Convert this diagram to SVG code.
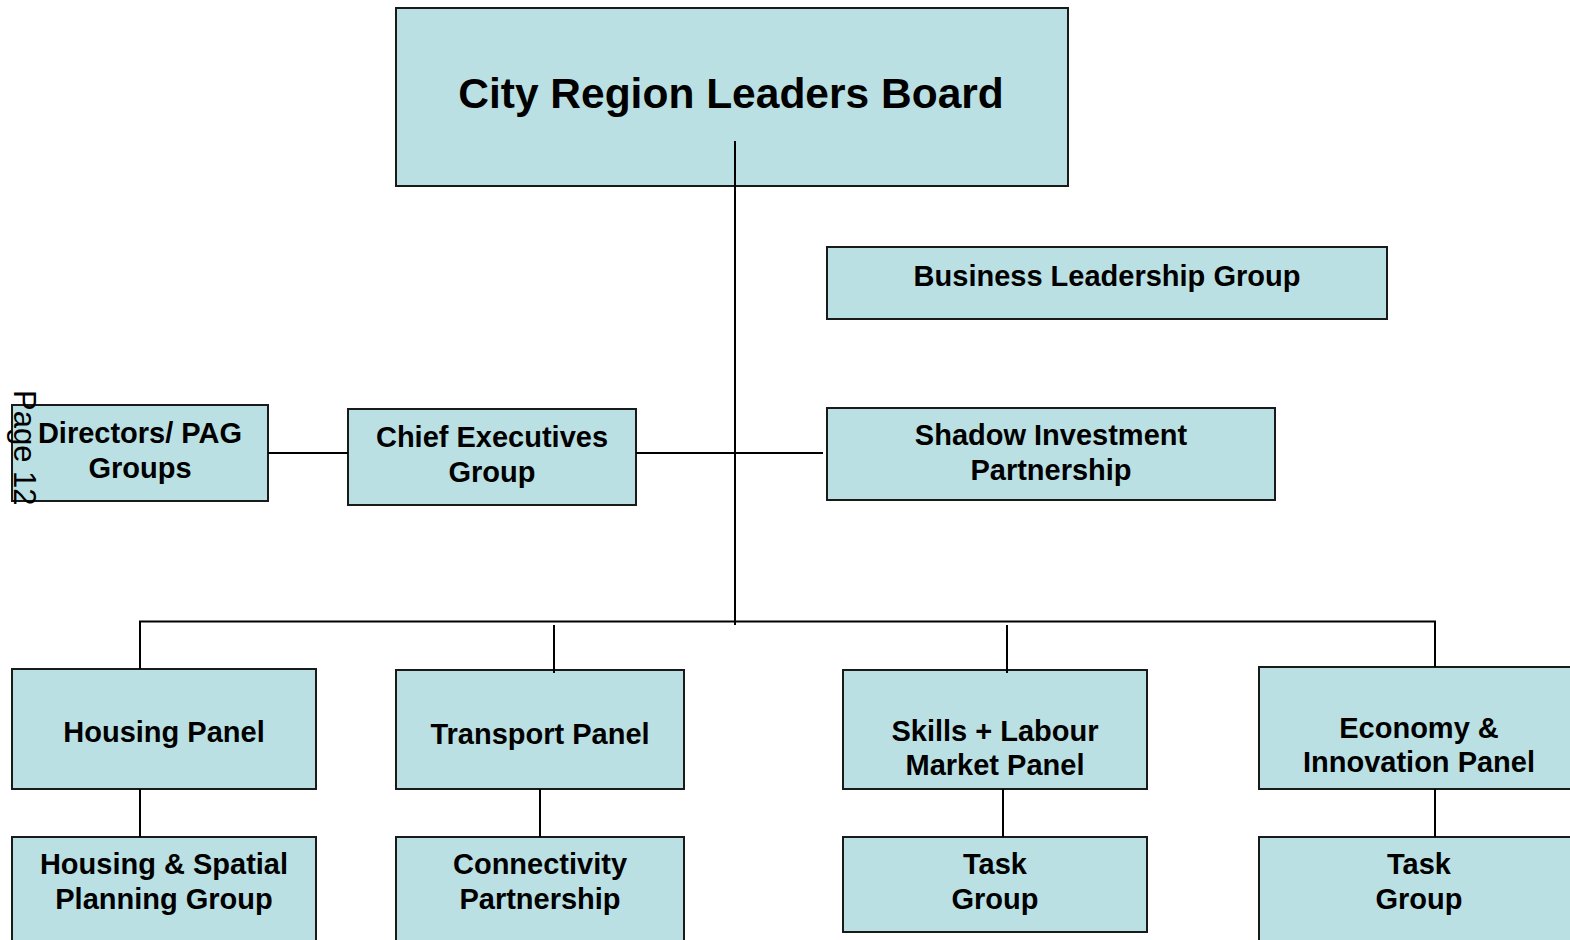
<svg xmlns="http://www.w3.org/2000/svg" width="1570" height="940" viewBox="0 0 1570 940">
<style>
.box{fill:#bae0e3;stroke:#1a1a1a;stroke-width:2}
.t{font-family:"Liberation Sans",Arial,sans-serif;font-weight:bold;font-size:29px;fill:#000;text-anchor:middle}
.c{stroke:#000;stroke-width:2;fill:none}
</style>
<rect width="1570" height="940" fill="#fff"/>
<g id="n-board"><rect class="box" x="396" y="8" width="672" height="178"/><text class="t" x="731" y="108" style="font-size:42.5px">City Region Leaders Board</text></g>
<g id="n-business"><rect class="box" x="827" y="247" width="560" height="72"/><text class="t" x="1107" y="286">Business Leadership Group</text></g>
<g id="n-shadow"><rect class="box" x="827" y="408" width="448" height="92"/><text class="t" x="1051" y="445">Shadow Investment</text><text class="t" x="1051" y="480">Partnership</text></g>
<g id="n-chief"><rect class="box" x="348" y="409" width="288" height="96"/><text class="t" x="492" y="447">Chief Executives</text><text class="t" x="492" y="482">Group</text></g>
<g id="n-directors"><rect class="box" x="12" y="405" width="256" height="96"/><text class="t" x="140" y="443">Directors/ PAG</text><text class="t" x="140" y="478">Groups</text></g>
<g id="n-housing"><rect class="box" x="12" y="669" width="304" height="120"/><text class="t" x="164" y="742">Housing Panel</text></g>
<g id="n-transport"><rect class="box" x="396" y="670" width="288" height="119"/><text class="t" x="540" y="744">Transport Panel</text></g>
<g id="n-skills"><rect class="box" x="843" y="670" width="304" height="119"/><text class="t" x="995" y="741">Skills + Labour</text><text class="t" x="995" y="775">Market Panel</text></g>
<g id="n-economy"><rect class="box" x="1259" y="667" width="320" height="122"/><text class="t" x="1419" y="738">Economy &amp;</text><text class="t" x="1419" y="772">Innovation Panel</text></g>
<g id="n-hsp"><rect class="box" x="12" y="837" width="304" height="110"/><text class="t" x="164" y="874">Housing &amp; Spatial</text><text class="t" x="164" y="909">Planning Group</text></g>
<g id="n-conn"><rect class="box" x="396" y="837" width="288" height="110"/><text class="t" x="540" y="874">Connectivity</text><text class="t" x="540" y="909">Partnership</text></g>
<g id="n-task1"><rect class="box" x="843" y="837" width="304" height="95"/><text class="t" x="995" y="874">Task</text><text class="t" x="995" y="909">Group</text></g>
<g id="n-task2"><rect class="box" x="1259" y="837" width="320" height="110"/><text class="t" x="1419" y="874">Task</text><text class="t" x="1419" y="909">Group</text></g>
<g id="connectors">
<path class="c" d="M735 141V625"/>
<path class="c" d="M636 453H823"/>
<path class="c" d="M268 453H348"/>
<path class="c" d="M140 669V621.5H1435V667"/>
<path class="c" d="M554 625V673"/>
<path class="c" d="M1007 625V673"/>
<path class="c" d="M140 789V837"/>
<path class="c" d="M540 789V837"/>
<path class="c" d="M1003 789V837"/>
<path class="c" d="M1435 789V837"/>
</g>
<text transform="translate(14,390) rotate(90)" style="font-family:'Liberation Sans',Arial,sans-serif;font-size:31px;fill:#000">Page 12</text>
</svg>
